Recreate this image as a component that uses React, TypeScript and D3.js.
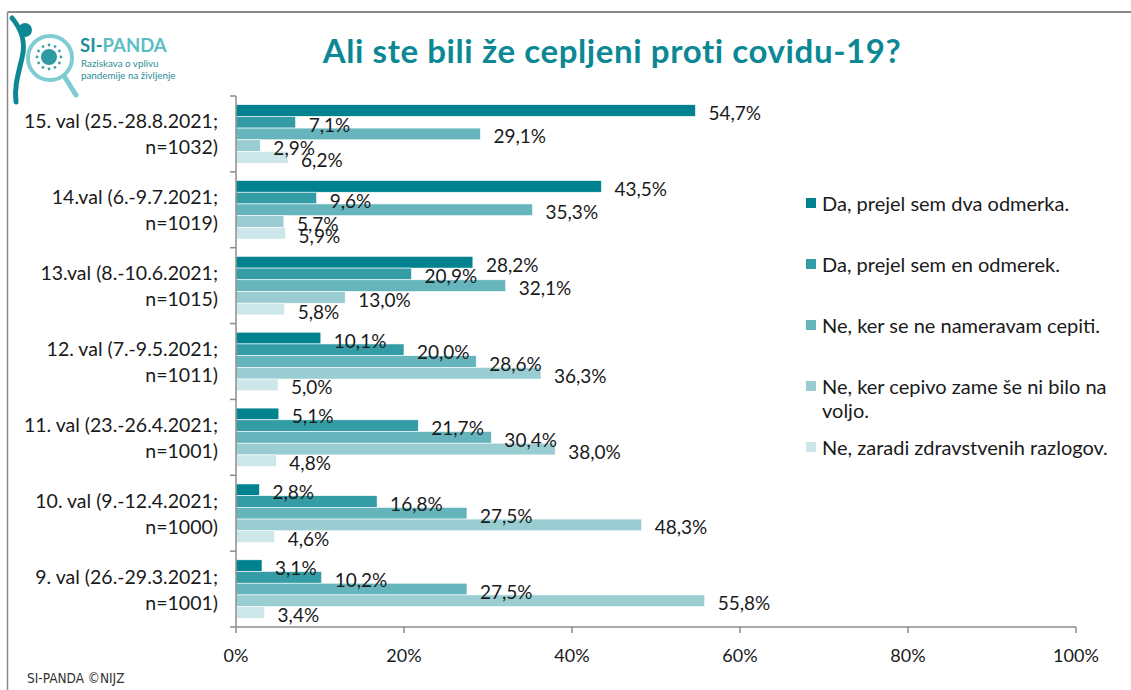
import React from "react";
import * as d3 from "d3";

const categories = [
  ["15. val (25.-28.8.2021;", "n=1032)"],
  ["14.val (6.-9.7.2021;", "n=1019)"],
  ["13.val (8.-10.6.2021;", "n=1015)"],
  ["12. val (7.-9.5.2021;", "n=1011)"],
  ["11. val (23.-26.4.2021;", "n=1001)"],
  ["10. val (9.-12.4.2021;", "n=1000)"],
  ["9. val (26.-29.3.2021;", "n=1001)"],
];

const seriesNames = [
  ["Da, prejel sem dva odmerka."],
  ["Da, prejel sem en odmerek."],
  ["Ne, ker se ne nameravam cepiti."],
  ["Ne, ker cepivo zame še ni bilo na", "voljo."],
  ["Ne, zaradi zdravstvenih razlogov."],
];

const dvaOdmerka = [54.7, 43.5, 28.2, 10.1, 5.1, 2.8, 3.1];
const enOdmerek = [7.1, 9.6, 20.9, 20.0, 21.7, 16.8, 10.2];
const neNameravam = [29.1, 35.3, 32.1, 28.6, 30.4, 27.5, 27.5];
const niBiloNaVoljo = [2.9, 5.7, 13.0, 36.3, 38.0, 48.3, 55.8];
const zdravstveni = [6.2, 5.9, 5.8, 5.0, 4.8, 4.6, 3.4];

const seriesValues = [dvaOdmerka, enOdmerek, neNameravam, niBiloNaVoljo, zdravstveni];
const colors = ["#00838F", "#339CA5", "#66B5BC", "#99CDD2", "#CCE6E9"];
const xTicks = [0, 20, 40, 60, 80, 100];

const FONT = "Lato, 'Open Sans', sans-serif";

export default function App() {
  const W = 1131, H = 690;
  const x = d3.scaleLinear().domain([0, 100]).range([236, 1076]);
  const catIdx = categories.map((_, i) => String(i));
  const y = d3.scaleBand().domain(catIdx).range([96, 627]).padding(0);
  const inner = d3
    .scaleBand()
    .domain(seriesValues.map((_, i) => String(i)))
    .range([0, y.bandwidth()])
    .paddingInner(0)
    .paddingOuter(0.74);
  const fmt = (v: number) => v.toFixed(1).replace(".", ",") + "%";
  const legendY = [203, 264, 325, 386, 447];

  return (
    <svg width={W} height={H} style={{ position: "absolute", left: 0, top: 0, background: "#fff" }} fontFamily={FONT}>
      {/* frame */}
      <line x1={7.5} y1={12} x2={W} y2={12} stroke="#8a8a8a" strokeWidth={2} />
      <line x1={7.5} y1={12} x2={7.5} y2={H} stroke="#8a8a8a" strokeWidth={1.5} />

      {/* logo */}
      <g>
        <path d="M12,18 C22,30 26,42 22,58 C18,75 14,88 16,102" fill="none" stroke="#0E8792" strokeWidth={5} strokeLinecap="round" />
        <circle cx={25} cy={30} r={7} fill="#0E8792" />
        <circle cx={50} cy={58} r={22} fill="none" stroke="#7FCCD2" strokeWidth={4} />
        <line x1={64} y1={76} x2={76} y2={95} stroke="#7FCCD2" strokeWidth={5} strokeLinecap="round" />
        <circle cx={49} cy={57} r={8} fill="#2E9BA3" />
        {d3.range(12).map((k) => {
          const a = (k / 12) * Math.PI * 2;
          return <circle key={k} cx={49 + Math.cos(a) * 12} cy={57 + Math.sin(a) * 12} r={1.4} fill="#3AA3AA" />;
        })}
        <text x={80} y={52} fontSize={18.5} fontWeight={700} fill="#1C8F98">
          SI-<tspan fill="#5DBDC4">PANDA</tspan>
        </text>
        <text x={81} y={67} fontSize={9.8} fill="#2A8E97">Raziskava o vplivu</text>
        <text x={81} y={79} fontSize={9.8} fill="#2A8E97">pandemije na življenje</text>
      </g>

      {/* title */}
      <text x={612} y={50} textAnchor="middle" dominantBaseline="central" fontSize={33} letterSpacing={0.6} fontWeight={700} fill="#0B8894">
        Ali ste bili že cepljeni proti covidu-19?
      </text>

      {/* bars */}
      {seriesValues.map((vals, s) =>
        vals.map((v, c) => {
          const yy = (y(String(c)) as number) + (inner(String(s)) as number);
          return (
            <rect key={`b${s}-${c}`} x={x(0)} y={yy} width={x(v) - x(0)} height={inner.bandwidth()} fill={colors[s]} stroke="#fff" strokeWidth={0.6} />
          );
        })
      )}

      {/* labels */}
      {seriesValues.map((vals, s) =>
        vals.map((v, c) => {
          const yy = (y(String(c)) as number) + (inner(String(s)) as number) + inner.bandwidth() / 2 + 2;
          return (
            <text key={`l${s}-${c}`} x={x(v) + 13} y={yy} dominantBaseline="central" fontSize={19} fill="#1a1a1a">
              {fmt(v)}
            </text>
          );
        })
      )}

      {/* y axis */}
      <line x1={236} y1={96} x2={236} y2={627} stroke="#8c8c8c" strokeWidth={1.5} />
      {d3.range(categories.length + 1).map((i) => {
        const yy = 96 + i * y.step();
        return <line key={`yt${i}`} x1={230} x2={236} y1={yy} y2={yy} stroke="#8c8c8c" strokeWidth={1.5} />;
      })}
      {categories.map((lines, c) => {
        const cy = (y(String(c)) as number) + y.bandwidth() / 2;
        return (
          <g key={`c${c}`}>
            {lines.map((t, k) => (
              <text key={k} x={218} y={cy + (k - 0.5) * 26} textAnchor="end" dominantBaseline="central" fontSize={19.5} fill="#1a1a1a">
                {t}
              </text>
            ))}
          </g>
        );
      })}

      {/* x axis */}
      <line x1={236} y1={627} x2={1076} y2={627} stroke="#8c8c8c" strokeWidth={1.5} />
      {xTicks.map((t) => (
        <g key={`xt${t}`}>
          <line x1={x(t)} x2={x(t)} y1={627} y2={633} stroke="#8c8c8c" strokeWidth={1.5} />
          <text x={x(t)} y={655} textAnchor="middle" dominantBaseline="central" fontSize={18} fill="#1a1a1a">
            {t}%
          </text>
        </g>
      ))}

      {/* legend */}
      {seriesNames.map((lines, s) => (
        <g key={`lg${s}`}>
          <rect x={806} y={legendY[s] - 5} width={10} height={10} fill={colors[s]} />
          {lines.map((t, k) => (
            <text key={k} x={822} y={legendY[s] + k * 24} dominantBaseline="central" fontSize={20} fill="#1a1a1a">
              {t}
            </text>
          ))}
        </g>
      ))}

      {/* footer */}
      <text x={27} y={678} dominantBaseline="central" fontSize={13.5} fill="#333" fontFamily="'Liberation Sans Narrow', 'DejaVu Sans Condensed', sans-serif">
        SI-PANDA ©NIJZ
      </text>
    </svg>
  );
}
